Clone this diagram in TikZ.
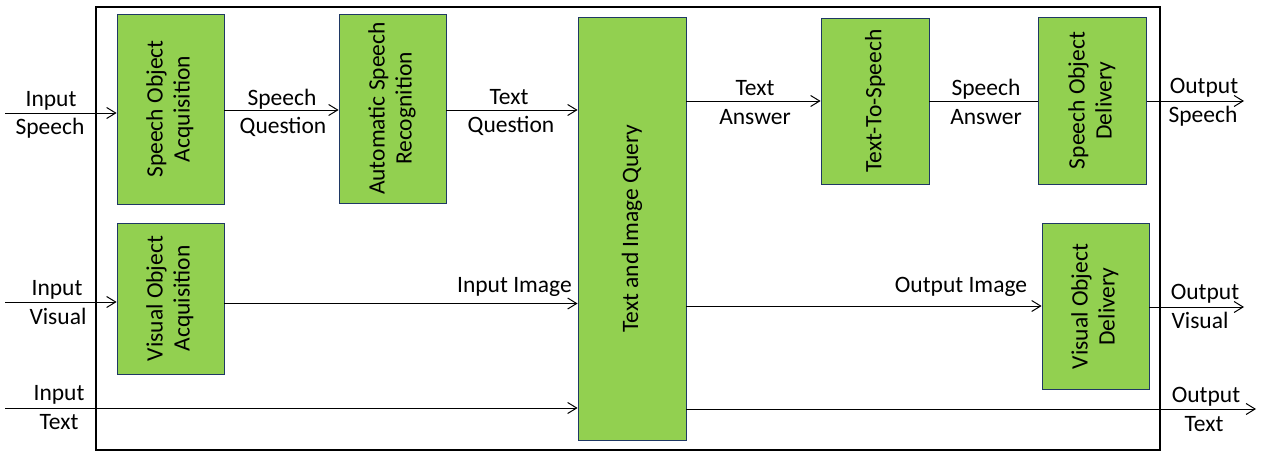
\documentclass[tikz,border=0pt]{standalone}
\usepackage{fontspec}
\setmainfont{Carlito}
\usepackage{graphicx}
\usetikzlibrary{arrows.meta}
\definecolor{boxgreen}{HTML}{92D050}
\definecolor{boxline}{HTML}{1F3864}
\begin{document}
\begin{tikzpicture}[x=1pt,y=-1pt,
  every node/.style={font=\fontsize{23.5}{28}\selectfont},
  blk/.style={draw=boxline, fill=boxgreen, line width=0.8pt, inner sep=0pt},
  lbl/.style={anchor=base, inner sep=0pt},
  arr/.style={line width=1pt, -{Straight Barb[length=9pt,width=11pt,line width=1pt]}},
  ln/.style={line width=1pt}]
\useasboundingbox (0,0) rectangle (1263,452);
% frame
\draw[line width=2.5pt] (96,7) rectangle (1160,450);
% boxes
\node[blk, minimum width=107pt, minimum height=190pt] (soa) at (170.5,109)
  {\rotatebox{90}{\begin{tabular}{@{}c@{}}Speech Object\\[-1pt]Acquisition\end{tabular}}};
\node[blk, minimum width=107pt, minimum height=189pt] (asr) at (392.5,108.5)
  {\rotatebox{90}{\begin{tabular}{@{}c@{}}Automatic Speech\\[-1pt]Recognition\end{tabular}}};
\node[blk, minimum width=108pt, minimum height=423pt] (tiq) at (632,228.5)
  {\rotatebox{90}{Text and Image Query}};
\node[blk, minimum width=108pt, minimum height=166pt] (tts) at (875,101)
  {\rotatebox{90}{Text-To-Speech}};
\node[blk, minimum width=108pt, minimum height=167pt] (sod) at (1092.5,100.5)
  {\rotatebox{90}{\begin{tabular}{@{}c@{}}Speech Object\\[-1pt]Delivery\end{tabular}}};
\node[blk, minimum width=107pt, minimum height=151pt] (voa) at (170.5,298.5)
  {\rotatebox{90}{\begin{tabular}{@{}c@{}}Visual Object\\[-1pt]Acquisition\end{tabular}}};
\node[blk, minimum width=107pt, minimum height=166pt] (vod) at (1095.5,306.5)
  {\rotatebox{90}{\begin{tabular}{@{}c@{}}Visual Object\\[-1pt]Delivery\end{tabular}}};
% row coordinates
\coordinate (inS) at (5,113);
\coordinate (rq) at (0,110);
\coordinate (ra) at (0,101);
\coordinate (outS) at (1244,101);
\coordinate (inV) at (5,302);
\coordinate (ri) at (0,303.5);
\coordinate (ro) at (0,306);
\coordinate (outV) at (1244,307);
\coordinate (inT) at (5,408);
\coordinate (outT) at (1256,409);
% connectors
\draw[arr] (inS) -- (inS -| soa.west);
\draw[arr] (soa.east |- rq) -- (asr.west |- rq);
\draw[arr] (asr.east |- rq) -- (tiq.west |- rq);
\draw[arr] (tiq.east |- ra) -- (tts.west |- ra);
\draw[ln] (tts.east |- ra) -- (sod.west |- ra);
\draw[arr] (sod.east |- outS) -- (outS);
\draw[arr] (inV) -- (inV -| voa.west);
\draw[arr] (voa.east |- ri) -- (tiq.west |- ri);
\draw[arr] (tiq.east |- ro) -- (vod.west |- ro);
\draw[arr] (vod.east |- outV) -- (outV);
\draw[arr] (inT) -- (inT -| tiq.west);
\draw[arr] (tiq.east |- outT) -- (outT);
% labels
\node[lbl] (l1) at (51,106) {Input};
\node[lbl] (l2) at (50,134) {Speech};
\node[lbl] (l3) at (282,105) {Speech};
\node[lbl] (l4) at (283,133) {Question};
\node[lbl] (l5) at (509,104) {Text};
\node[lbl] (l6) at (511,132) {Question};
\node[lbl] (l7) at (755,95) {Text};
\node[lbl] (l8) at (755,124) {Answer};
\node[lbl] (l9) at (986,95) {Speech};
\node[lbl] (l10) at (986,124) {Answer};
\node[lbl] (l11) at (1204,93) {Output};
\node[lbl] (l12) at (1203,122) {Speech};
\node[lbl] (l13) at (57,295) {Input};
\node[lbl] (l14) at (58,324) {Visual};
\node[lbl, anchor=base east] (l15) at (572,292) {Input Image};
\node[lbl] (l16) at (961,292) {Output Image};
\node[lbl] (l17) at (1205,299) {Output};
\node[lbl] (l18) at (1200,328) {Visual};
\node[lbl] (l19) at (59,400) {Input};
\node[lbl] (l20) at (59,429) {Text};
\node[lbl] (l21) at (1206,402) {Output};
\node[lbl] (l22) at (1204,431) {Text};
\end{tikzpicture}
\end{document}
